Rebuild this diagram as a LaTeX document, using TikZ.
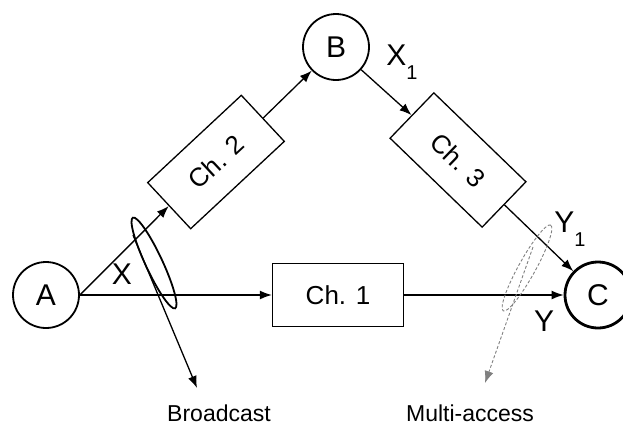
\documentclass[tikz,border=0pt]{standalone}
\usepackage{fontspec}
\setmainfont{Liberation Sans}
\usepackage{tikz}
\usetikzlibrary{arrows.meta,shapes.geometric,calc}
\newcommand{\idx}[1]{\raisebox{-0.45em}{\fontsize{20}{20}\selectfont #1}}

\begin{document}
\begin{tikzpicture}[
  x=1pt, y=-1pt,
  station/.style={
    draw,
    circle,
    minimum size=66pt,
    inner sep=0pt,
    line width=1.8pt,
    font=\fontsize{30}{30}\selectfont
  },
  channel/.style={
    draw,
    rectangle,
    minimum width=128pt,
    minimum height=63pt,
    line width=1.3pt,
    font=\fontsize{26}{26}\selectfont
  },
  flow/.style={-{Latex[length=12pt,width=9pt]}, line width=1.3pt},
  group/.style={draw, ellipse, inner sep=0pt},
  sig/.style={font=\fontsize{30}{30}\selectfont, inner sep=0pt},
  note/.style={font=\fontsize{23}{23}\selectfont}
]
\useasboundingbox (0,0) rectangle (623,429);

% Terminals
\node[station] (A) at (46,295) {A};
\node[station] (B) at (336,47) {B};
\node[station, line width=2.8pt] (C) at (598,295) {C};

% Channels
\node[channel, minimum width=131pt] (ch1) at (338,295) {Ch. 1};
\node[channel, rotate=43] (ch2) at (216,162) {Ch. 2};
\node[channel, rotate=-44] (ch3) at (458,160) {Ch. 3};

\draw[flow] (A.east) -- (ch1.west);
\draw[flow] (A.east) -- (ch2.west);
\draw[flow] (ch2.east) -- (B);
\draw[flow] (B) -- (ch3.west);
\draw[flow] (ch3.east) -- (C);
\draw[flow] (ch1.east) -- (C.west);

% Signals
\node[sig] (x)  at (122,274) {X};
\node[sig] (x1) at (402,62) {X\idx{1}};
\node[sig] (y1) at (570,229) {Y\idx{1}};
\node[sig] (y)  at (544,321) {Y};

% Broadcast and multi-access sets
\node[group, line width=1.8pt, minimum width=100pt, minimum height=17pt, rotate=-65]
  (bcast) at (154,263) {};
\node[group, gray, line width=0.9pt, densely dashed, minimum width=98pt, minimum height=17pt, rotate=61]
  (macc) at (527,268) {};

\node[note] (bcastlbl) at (219,413) {Broadcast};
\node[note] (macclbl)  at (470,413) {Multi-access};

\coordinate (bcfrom) at (133,235);
\coordinate (bcto)   at (197,388);
\coordinate (mafrom) at (533,247);
\coordinate (mato)   at (485,383);
\draw[flow] (bcfrom) -- (bcto);
\draw[flow, gray, line width=0.9pt, densely dashed] (mafrom) -- (mato);
\end{tikzpicture}
\end{document}
